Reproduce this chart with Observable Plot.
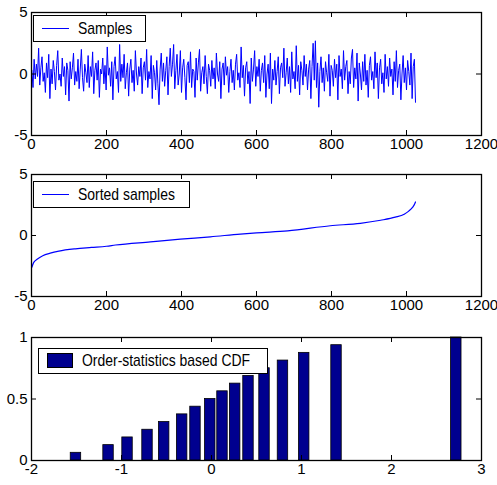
<!DOCTYPE html>
<html>
<head>
<meta charset="utf-8">
<script src="https://cdn.jsdelivr.net/npm/d3@7"></script>
<script src="https://cdn.jsdelivr.net/npm/@observablehq/plot@0.6"></script>
<style>
  html, body { margin: 0; padding: 0; background: #fff; }
  #chart { position: relative; width: 497px; height: 485px; background: #fff;
           font-family: "Liberation Sans", Arial, sans-serif; }
  #chart .panel { position: absolute; left: 0; }
  .legend { position: absolute; box-sizing: border-box; border: 1.3px solid #000; background: #fff;
            font-size: 17px; color: #000; white-space: nowrap; }
  .legend .key { position: absolute; }
  .legend .lab { position: absolute; line-height: 1; transform: scaleX(0.82); transform-origin: 0 50%; }
</style>
</head>
<body>
<div id="chart"></div>
<script>
// ---- data ----
const samples = [
  0.3,-1.1,1.2,-0.4,0.8,-0.2,2.1,-0.9,0.5,1.4,-0.6,0.1,-1.5,0.9,-0.3,1.6,-2.0,0.4,-0.8,1.1,
  0.2,-1.3,0.7,1.9,-0.5,0.0,-1.0,1.3,-0.2,0.6,-1.7,0.9,0.3,-2.2,1.0,-0.4,0.5,1.7,-0.9,0.2,
  -0.6,1.2,-1.2,0.4,2.0,-0.3,-1.4,0.8,0.1,-0.7,1.5,-1.1,0.6,-0.2,1.8,-1.6,0.3,0.9,-0.5,1.1,
  -1.9,0.4,0.0,1.3,-0.8,0.7,-1.3,2.2,-0.1,0.5,-1.0,1.0,-2.1,0.6,1.4,-0.4,0.2,-1.5,2.4,-0.6,
  0.8,-0.3,1.6,-1.2,0.1,0.9,-1.8,0.4,1.2,-0.7,0.3,-1.4,1.9,0.0,-0.9,0.6,-0.2,1.3,-1.6,0.5,
  1.0,-0.5,2.0,-1.1,0.2,-0.4,1.5,-2.0,0.7,0.1,-1.3,1.1,-0.8,-2.5,0.4,1.7,-0.6,0.9,-1.0,0.3,
  1.4,-1.7,0.6,2.1,-0.2,0.8,2.4,-1.2,0.3,1.6,-0.9,0.0,1.9,-1.5,0.5,1.2,-0.3,-2.1,0.7,1.0,
  -0.7,1.8,-1.1,0.4,0.2,-1.9,1.3,-0.5,0.9,2.0,-1.4,0.1,0.6,-0.8,1.5,-0.2,-1.6,0.8,0.3,-1.0,
  1.1,-0.4,0.5,-1.2,1.7,0.0,-0.6,1.0,-2.0,0.4,0.9,-0.9,1.4,-0.1,0.6,-1.5,0.2,1.2,-0.7,0.3,
  -1.3,0.8,1.6,-0.5,0.1,-1.1,2.2,-0.3,0.7,-1.8,0.5,1.0,-0.8,0.2,-2.4,1.3,-0.6,0.4,1.9,-1.0,
  0.6,-0.2,1.2,-1.4,0.3,0.9,-0.7,1.5,-1.9,0.0,0.8,-1.2,1.7,-2.4,0.4,-0.5,1.1,-0.9,0.2,1.4,
  -1.6,0.5,0.9,-0.3,2.1,-1.0,0.1,1.3,-0.8,0.6,-1.5,1.8,-0.4,0.2,-1.2,2.3,-0.6,0.7,-1.7,1.0,
  0.3,-0.9,1.5,-0.2,0.8,-1.3,0.4,1.1,-2.0,0.6,2.5,-0.5,2.7,-1.1,0.9,-2.7,0.2,1.4,-0.7,0.5,
  -1.4,1.0,0.1,-0.6,1.6,-1.8,0.7,0.3,-1.0,1.2,-0.3,0.8,-2.1,1.5,-0.2,0.4,-1.2,1.9,-0.5,0.6,
  1.1,-1.6,0.2,-0.8,1.3,2.0,-1.1,0.5,-0.4,1.7,-2.2,0.9,0.0,-1.3,1.0,-0.6,1.6,-0.9,0.3,-1.9,
  0.7,1.4,-0.5,0.2,-1.2,1.8,-0.3,0.9,-2.0,0.5,1.2,-0.8,0.1,-1.5,1.6,-0.4,0.6,-1.0,1.3,-0.2,
  0.4,-1.7,1.0,-0.6,1.9,-1.1,0.3,0.8,-2.1,0.0,1.5,-0.7,0.5,-1.3,1.1,0.2,-0.9,1.7,-2.0,0.6,
  1.2,-2.3
];
const sampleCount = 1024; // samples span index 1..1024

const sortedIdx = [1, 6, 15, 30, 50, 73, 117, 160, 200, 224, 317, 397, 477, 557, 600, 683, 797, 877, 931, 970, 994, 1006, 1016, 1022, 1024];
const sortedVal = [-2.6, -2.2, -1.95, -1.66, -1.45, -1.28, -1.09, -0.98, -0.88, -0.78, -0.52, -0.3, -0.11, 0.12, 0.22, 0.38, 0.8, 1.0, 1.25, 1.5, 1.75, 2.0, 2.3, 2.6, 2.75];

const cdfX = [-1.506, -1.144, -0.933, -0.711, -0.526, -0.326, -0.178, -0.014, 0.122, 0.263, 0.411, 0.589, 0.794, 1.03, 1.389, 2.72];
const cdfY = [0.0625, 0.125, 0.1875, 0.25, 0.3125, 0.375, 0.4375, 0.5, 0.5625, 0.625, 0.6875, 0.75, 0.8125, 0.875, 0.9375, 1.0];

const xTicksTop = [0, 200, 400, 600, 800, 1000, 1200];
const yTicksTop = [-5, 0, 5];
const xTicksCdf = [-2, -1, 0, 1, 2, 3];
const yTicksCdf = [0, 0.5, 1];

// ---- layout ----
const W = 497, ML = 31, MR = 16;
const FONT = '"Liberation Sans", Arial, sans-serif';
const chart = document.getElementById("chart");

function panel({top, height, mt, mb, xDomain, yDomain, xTicks, yTicks, marks}) {
  const fw = W - ML - MR, fh = height - mt - mb, t = 5;
  const fmt = d => String(d);
  const p = Plot.plot({
    width: W, height, marginLeft: ML, marginRight: MR, marginTop: mt, marginBottom: mb,
    style: {fontFamily: FONT, fontSize: "15px", background: "#fff", color: "#000", overflow: "visible"},
    x: {domain: xDomain, axis: null},
    y: {domain: yDomain, axis: null},
    marks: [
      ...marks,
      Plot.tickX(xTicks, {x: d => d, stroke: "#000", strokeWidth: 1, insetTop: fh - t}),
      Plot.tickX(xTicks, {x: d => d, stroke: "#000", strokeWidth: 1, insetBottom: fh - t}),
      Plot.tickY(yTicks, {y: d => d, stroke: "#000", strokeWidth: 1, insetRight: fw - t}),
      Plot.tickY(yTicks, {y: d => d, stroke: "#000", strokeWidth: 1, insetLeft: fw - t}),
      Plot.axisX({ticks: xTicks, tickSize: 0, tickPadding: 3, tickFormat: fmt, label: null, fontSize: 15}),
      Plot.axisY({ticks: yTicks, tickSize: 0, tickPadding: 4, tickFormat: fmt, label: null, fontSize: 15}),
      Plot.frame({stroke: "#000", strokeWidth: 1.3})
    ]
  });
  p.classList.add("panel");
  p.style.top = top + "px";
  chart.appendChild(p);
}

function legend({left, top, width, height, text, keyType, textLeft}) {
  const d = document.createElement("div");
  d.className = "legend";
  Object.assign(d.style, {left: left + "px", top: top + "px", width: width + "px", height: height + "px"});
  const k = document.createElement("div");
  k.className = "key";
  if (keyType === "line") {
    Object.assign(k.style, {left: "8px", top: (height / 2 - 1.5) + "px", width: "27px", height: "0px", borderTop: "1.2px solid #0000ff"});
  } else {
    Object.assign(k.style, {left: "8px", top: "4px", width: "26px", height: "15px", background: "#00008f", boxSizing: "border-box", border: "1px solid #000"});
  }
  d.appendChild(k);
  const l = document.createElement("div");
  l.className = "lab";
  l.textContent = text;
  Object.assign(l.style, {left: textLeft + "px", top: (height / 2 - 10) + "px"});
  d.appendChild(l);
  chart.appendChild(d);
}

const sampleData = samples.map((v, i) => ({x: 1 + i * (sampleCount - 1) / (samples.length - 1), y: v}));
const sortedData = sortedIdx.map((x, i) => ({x, y: sortedVal[i]}));
const cdfData = cdfX.map((x, i) => ({x, y: cdfY[i]}));
const halfBar = 0.058;

panel({top: 0, height: 160, mt: 12, mb: 25, xDomain: [0, 1200], yDomain: [-5, 5], xTicks: xTicksTop, yTicks: yTicksTop,
  marks: [Plot.line(sampleData, {x: "x", y: "y", stroke: "#0000ff", strokeWidth: 1})]});
panel({top: 160, height: 160, mt: 14, mb: 24, xDomain: [0, 1200], yDomain: [-5, 5], xTicks: xTicksTop, yTicks: yTicksTop,
  marks: [Plot.line(sortedData, {x: "x", y: "y", stroke: "#0000ff", strokeWidth: 1.2, curve: "monotone-x"})]});
panel({top: 320, height: 165, mt: 17, mb: 25, xDomain: [-2, 3], yDomain: [0, 1], xTicks: xTicksCdf, yTicks: yTicksCdf,
  marks: [Plot.rectY(cdfData, {x1: d => d.x - halfBar, x2: d => d.x + halfBar, y1: 0, y2: "y", fill: "#00008f", stroke: "#000", strokeWidth: 0.8})]});

legend({left: 33, top: 15, width: 113, height: 27, text: "Samples", keyType: "line", textLeft: 44});
legend({left: 33, top: 181, width: 157, height: 27, text: "Sorted samples", keyType: "line", textLeft: 44});
legend({left: 38, top: 348, width: 230, height: 26, text: "Order-statistics based CDF", keyType: "patch", textLeft: 43});
</script>
</body>
</html>
